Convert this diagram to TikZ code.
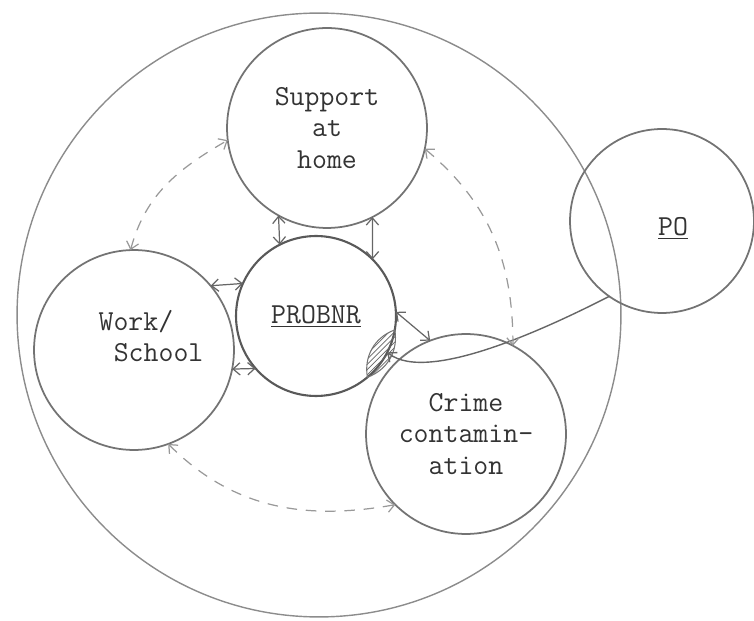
\documentclass[tikz,border=0pt]{standalone}
\usepackage{tikz}
\usetikzlibrary{arrows.meta,patterns}
\newcommand{\typefont}{\fontsize{16.5pt}{18pt}\selectfont\ttfamily}
\tikzset{
  ring/.style={circle, draw=black!55, line width=1pt, inner sep=0pt, outer sep=0pt, align=center, font=\typefont, text=black!80},
  ringtxt/.style={font=\typefont, text=black!80},
  >={Straight Barb[length=4pt,width=7pt]},
  darr/.style={<->, draw=black!60, line width=0.7pt},
  dasharr/.style={<->, draw=black!40, line width=0.7pt, dash pattern=on 6pt off 5pt},
  poarr/.style={->, draw=black!60, line width=0.8pt}
}
\begin{document}
\begin{tikzpicture}[x=0.02cm, y=-0.02cm]
\useasboundingbox (0,0) rectangle (754,621);
% circles
\node[ring, draw=black!45, line width=0.8pt, minimum size=12.08cm] (env) at (319,315) {};
\node[ring, minimum size=4cm] (home) at (327,128) {Support\\at\\home};
\node[ring, draw=black!65, line width=1.2pt, minimum size=3.2cm] (probnr) at (316,316) {\underline{PROBNR}};
\node[ring, minimum size=4cm, label={[ringtxt, align=left, xshift=0.34cm, yshift=0.28cm]center:Work/\\\hspace*{0.525em}School}] (work) at (134,350) {};
\node[ring, minimum size=4cm] (crime) at (466,434) {Crime\\contamin-\\ation};
\node[ring, minimum size=3.68cm, label={[ringtxt, xshift=0.22cm, yshift=-0.14cm]center:\underline{PO}}] (po) at (662,221) {};
% hatched contact
\draw[black!55, line width=0.6pt, pattern=north east lines, pattern color=black!60] (probnr.-10) to[bend left=40] (probnr.-50) to[bend left=40] (probnr.-10);
% links
\draw[darr] (home.241) -- (probnr.117);
\draw[darr] (home.297) -- (probnr.45);
\draw[darr] (work.40) -- (probnr.156);
\draw[darr] (work.-11) -- (probnr.221);
\draw[darr] (probnr.3) -- (crime.111);
\draw[poarr] (po.235) to[out=207, in=-39, looseness=0.6] (probnr.-27);
\draw[dasharr] (work.92) to[out=75, in=210] (home.187);
\draw[dasharr] (home.-12) to[out=-40, in=90] (crime.62);
\draw[dasharr] (work.-70) to[out=-45, in=190] (crime.225);
\end{tikzpicture}
\end{document}
